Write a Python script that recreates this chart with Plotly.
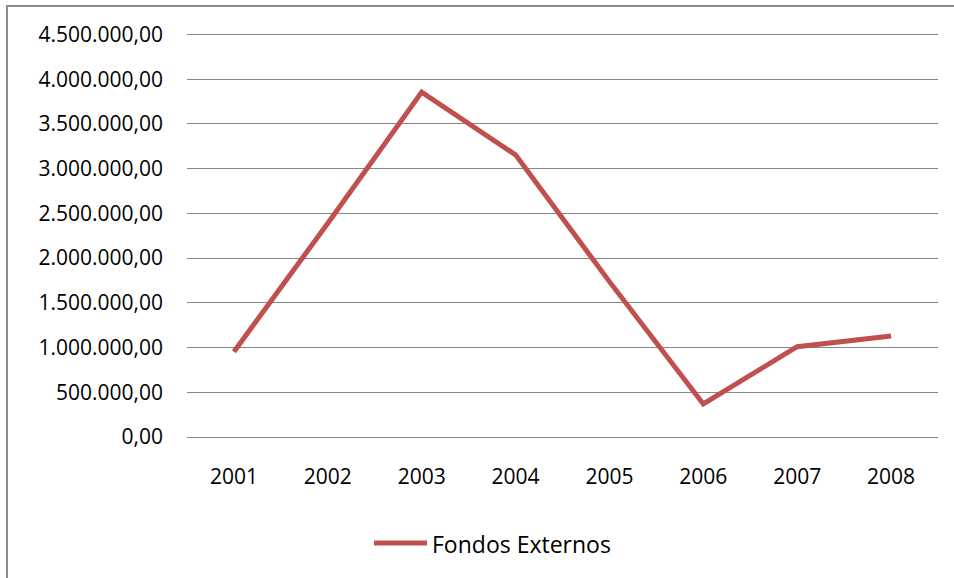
import plotly.graph_objects as go

# Datos
ANIOS = ['2001', '2002', '2003', '2004', '2005', '2006', '2007', '2008']
FONDOS_EXTERNOS = [954000, 2390000, 3856000, 3154000, 1737000, 370000, 1010000, 1130000]
Y_TICKS = [0, 500000, 1000000, 1500000, 2000000, 2500000, 3000000, 3500000, 4000000, 4500000]
Y_LABELS = ['0,00', '500.000,00', '1.000.000,00', '1.500.000,00', '2.000.000,00',
            '2.500.000,00', '3.000.000,00', '3.500.000,00', '4.000.000,00', '4.500.000,00']
SERIE = 'Fondos Externos'

RED = '#C0504D'
GRID = '#868686'
FONT = 'Open Sans'

W, H = 954, 578
L, R, T, B = 187, 16, 30, 141
PW, PH = W - L - R, H - T - B


def px_x(x):
    return (x - L) / PW


def px_y(y):
    return (H - B - y) / PH


fig = go.Figure()
fig.add_trace(go.Scatter(
    x=ANIOS, y=FONDOS_EXTERNOS, mode='lines', name=SERIE,
    line=dict(color=RED, width=5), showlegend=False
))

# Marco del gráfico
fig.add_shape(type='rect', xref='paper', yref='paper',
              x0=px_x(7), x1=px_x(1000), y0=px_y(640), y1=px_y(6),
              line=dict(color='#8C8C8C', width=2), fillcolor='rgba(0,0,0,0)')

# Leyenda (dibujada a mano para imitar Excel)
fig.add_shape(type='line', xref='paper', yref='paper',
              x0=px_x(374), x1=px_x(427), y0=px_y(543), y1=px_y(543),
              line=dict(color=RED, width=5))
fig.add_annotation(text=SERIE, xref='paper', yref='paper',
                   x=px_x(430), y=px_y(544), xanchor='left', yanchor='middle',
                   showarrow=False, font=dict(family=FONT, size=23, color='#000000'))

fig.update_layout(
    width=W, height=H,
    margin=dict(l=L, r=R, t=T, b=B),
    plot_bgcolor='white', paper_bgcolor='white',
    font=dict(family=FONT, color='#000000'),
)
fig.update_xaxes(
    showgrid=False, showline=False, ticks='',
    tickfont=dict(size=21), ticklabelstandoff=25,
    range=[-0.5, 7.5]
)
fig.update_yaxes(
    range=[0, 4550000], tickvals=Y_TICKS, ticktext=Y_LABELS,
    showgrid=True, gridcolor=GRID, gridwidth=1.3,
    zeroline=True, zerolinecolor=GRID, zerolinewidth=1.3,
    showline=False, ticks='', tickfont=dict(size=21), ticklabelstandoff=23
)

fig.write_html('out.html', config={'displayModeBar': False},
               post_script="document.body.style.margin='0';")
